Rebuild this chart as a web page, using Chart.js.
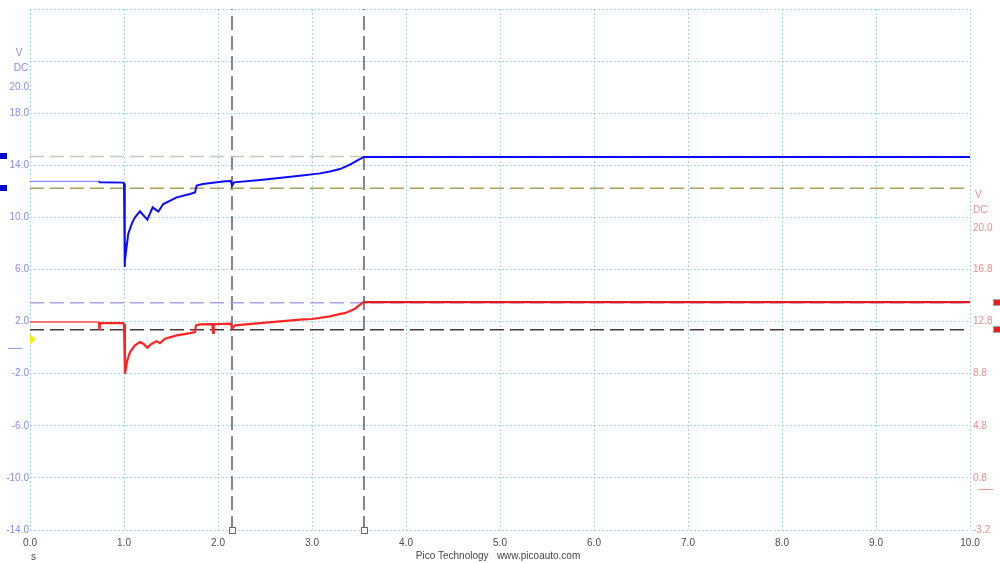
<!DOCTYPE html>
<html>
<head>
<meta charset="utf-8">
<script src="https://cdn.jsdelivr.net/npm/chart.js@4"></script>
<style>
  body { margin: 0; background: #fff; }
  canvas { display: block; }
</style>
</head>
<body>
<canvas id="scope" width="1000" height="563"></canvas>
<script>
// ---------- DATA ----------

// channel A (blue, left axis, V DC)
var blueTime = [0, 0.73, 0.745, 0.99, 1.0, 1.008, 1.015, 1.022, 1.045, 1.082, 1.117, 1.17, 1.248, 1.305, 1.365, 1.418, 1.561, 1.702, 1.755, 1.773, 1.84, 2.074, 2.138, 2.149, 2.17, 2.447, 2.872, 3.085, 3.191, 3.298, 3.404, 3.479, 3.553, 10];
var blueVolts = [12.77, 12.77, 12.7, 12.67, 12.6, 6.2, 8.0, 7.4, 8.73, 9.5, 10.0, 10.47, 9.83, 10.77, 10.44, 11.03, 11.54, 11.8, 11.92, 12.44, 12.57, 12.77, 12.8, 12.44, 12.69, 12.87, 13.2, 13.38, 13.53, 13.71, 14.05, 14.36, 14.64, 14.64];

// channel B (red, right axis, V DC)
var redTime = [0, 0.734, 0.738, 0.745, 0.99, 1.0, 1.01, 1.035, 1.064, 1.117, 1.17, 1.205, 1.248, 1.295, 1.348, 1.383, 1.436, 1.561, 1.702, 1.755, 1.766, 1.809, 1.94, 1.947, 1.955, 2.138, 2.149, 2.181, 2.447, 2.872, 3.0, 3.191, 3.3, 3.351, 3.457, 3.532, 3.553, 10];
var redVolts = [12.76, 12.76, 12.15, 12.69, 12.69, 12.6, 8.8, 9.83, 10.46, 10.98, 11.23, 11.1, 10.8, 11.1, 11.3, 11.15, 11.49, 11.74, 11.92, 12.0, 12.51, 12.58, 12.6, 11.94, 12.6, 12.65, 12.26, 12.51, 12.69, 12.95, 13.0, 13.2, 13.39, 13.45, 13.79, 14.22, 14.29, 14.3];

// rulers and time cursors
var blueRulers = [14.68, 12.23];
var redRulers = [14.25, 12.18];
var cursorTimes = [2.149, 3.553];

// axis ticks
var timeTicks = [0, 1, 2, 3, 4, 5, 6, 7, 8, 9, 10];
var leftTicks = [-14, -10, -6, -2, 2, 6, 10, 14, 18, 20, 22, 26];
var leftHidden = [22, 26];
var rightTicks = [-3.2, 0.8, 4.8, 8.8, 12.8, 16.8, 20.0];
var triggerLevel = 0.64;

var FONT = '"Liberation Sans", Arial, sans-serif';

function toPoints(xs, ys) {
  return xs.map(function (x, i) { return { x: x, y: ys[i] }; });
}

var datasets = [];

datasets.push({
  label: 'A',
  data: toPoints(blueTime, blueVolts),
  yAxisID: 'y',
  borderColor: '#0a0aff',
  borderWidth: 2,
  segment: {
    borderColor: function (ctx) { return ctx.p0.parsed.x < 0.72 ? '#6e6eff' : undefined; },
    borderWidth: function (ctx) { return ctx.p0.parsed.x < 0.72 ? 1 : undefined; }
  }
});

datasets.push({
  label: 'B',
  data: toPoints(redTime, redVolts),
  yAxisID: 'y2',
  borderColor: '#ff2424',
  borderWidth: 2.2,
  segment: {
    borderColor: function (ctx) { return ctx.p0.parsed.x < 0.72 ? '#ff4a4a' : (ctx.p0.parsed.x > 3.5 ? '#e01c1c' : undefined); },
    borderWidth: function (ctx) { return ctx.p0.parsed.x < 0.72 ? 1.5 : undefined; }
  }
});

var blueRulerColors = ['#c4cabb', '#a3a364'];
blueRulers.forEach(function (v, i) {
  datasets.push({ data: toPoints([0, 10], [v, v]), yAxisID: 'y', borderColor: blueRulerColors[i], borderWidth: 1.5, borderDash: [14, 6] });
});

var redRulerColors = ['#a8a2e2', '#4a3a3e'];
redRulers.forEach(function (v, i) {
  datasets.push({ data: toPoints([0, 10], [v, v]), yAxisID: 'y2', borderColor: redRulerColors[i], borderWidth: 1.5, borderDash: [14, 6] });
});

cursorTimes.forEach(function (t) {
  datasets.push({ data: toPoints([t, t], [-14, 26]), yAxisID: 'y', borderColor: '#52404c', borderWidth: 1.3, borderDash: [14, 6] });
});

// ---------- EXTRA DRAWING (units, markers, footer) ----------

var scopeExtras = {
  id: 'scopeExtras',
  afterDraw: function (chart) {
    var ctx = chart.ctx;
    var y = chart.scales.y, y2 = chart.scales.y2, x = chart.scales.x;
    ctx.save();
    ctx.font = '10px ' + FONT;
    ctx.textBaseline = 'middle';

    // unit labels
    ctx.fillStyle = '#8a8aee';
    ctx.textAlign = 'center';
    ctx.fillText('V', 19, y.getPixelForValue(20) - 34);
    ctx.fillText('DC', 21, y.getPixelForValue(20) - 19);
    ctx.fillStyle = '#f48a8a';
    ctx.textAlign = 'left';
    ctx.fillText('V', 975, y2.getPixelForValue(20) - 33);
    ctx.fillText('DC', 973, y2.getPixelForValue(20) - 18);

    // ruler markers
    blueRulers.forEach(function (v) {
      var py = Math.round(y.getPixelForValue(v));
      ctx.fillStyle = '#0000d8';
      ctx.fillRect(0, py - 3, 7, 6);
    });
    redRulers.forEach(function (v) {
      var py = Math.round(y2.getPixelForValue(v));
      ctx.fillStyle = '#a0a0a0';
      ctx.fillRect(993, py - 4, 7, 7);
      ctx.fillStyle = '#e42020';
      ctx.fillRect(994, py - 3, 6, 5);
    });

    // trigger marker
    var ty = y.getPixelForValue(triggerLevel);
    ctx.fillStyle = '#f2f200';
    ctx.beginPath();
    ctx.moveTo(30, ty - 5);
    ctx.lineTo(36, ty);
    ctx.lineTo(30, ty + 5);
    ctx.closePath();
    ctx.fill();

    // channel offset dashes
    ctx.strokeStyle = '#9a9aee';
    ctx.lineWidth = 1;
    ctx.beginPath();
    ctx.moveTo(8, 348.5);
    ctx.lineTo(22, 348.5);
    ctx.stroke();
    ctx.strokeStyle = '#f29a9a';
    ctx.beginPath();
    ctx.moveTo(978, 489.5);
    ctx.lineTo(993, 489.5);
    ctx.stroke();

    // cursor handles
    cursorTimes.forEach(function (t) {
      var px = Math.round(x.getPixelForValue(t));
      ctx.fillStyle = '#ffffff';
      ctx.strokeStyle = '#6a6a6a';
      ctx.fillRect(px - 3, 527, 6, 6);
      ctx.strokeRect(px - 2.5, 527.5, 6, 6);
    });

    // footer
    ctx.fillStyle = '#454545';
    ctx.textAlign = 'left';
    ctx.fillText('s', 31, 557);
    ctx.textAlign = 'center';
    ctx.fillText('Pico Technology   www.picoauto.com', 498, 556);
    ctx.restore();
  }
};

// ---------- CHART ----------

var gridDash = [2, 2];
var ctxScope = document.getElementById('scope').getContext('2d');
var scopeChart = new Chart(ctxScope, {
  type: 'line',
  data: { datasets: datasets },
  options: {
    responsive: false,
    animation: false,
    events: [],
    layout: { padding: { top: 9, left: 0, right: 0, bottom: 0 } },
    elements: {
      point: { radius: 0 },
      line: { tension: 0, fill: false }
    },
    plugins: {
      legend: { display: false },
      tooltip: { enabled: false }
    },
    scales: {
      x: {
        type: 'linear',
        min: 0,
        max: 10,
        afterBuildTicks: function (scale) { scale.ticks = timeTicks.map(function (v) { return { value: v }; }); },
        afterFit: function (scale) { scale.height = 33; },
        grid: { color: '#a9d6f0', drawTicks: false },
        border: { display: false, dash: gridDash },
        ticks: {
          padding: 7,
          color: '#4a4a5a',
          font: { family: FONT, size: 10 },
          maxRotation: 0,
          callback: function (v) { return v.toFixed(1); }
        }
      },
      y: {
        type: 'linear',
        position: 'left',
        min: -14,
        max: 26,
        afterBuildTicks: function (scale) { scale.ticks = leftTicks.map(function (v) { return { value: v }; }); },
        afterFit: function (scale) { scale.width = 30; },
        grid: {
          drawTicks: false,
          color: function (c) { return c.tick && c.tick.value === 20 ? 'rgba(0,0,0,0)' : '#a9d6f0'; }
        },
        border: { display: false, dash: gridDash },
        ticks: {
          padding: 1,
          color: '#8a8aee',
          font: { family: FONT, size: 10 },
          callback: function (v) { return leftHidden.indexOf(v) >= 0 ? '' : v.toFixed(1); }
        }
      },
      y2: {
        type: 'linear',
        position: 'right',
        min: -3.2,
        max: 36.8,
        afterBuildTicks: function (scale) { scale.ticks = rightTicks.map(function (v) { return { value: v }; }); },
        afterFit: function (scale) { scale.width = 30; },
        grid: { display: false, drawTicks: false },
        border: { display: false },
        ticks: {
          padding: 3,
          color: '#f48a8a',
          font: { family: FONT, size: 10 },
          callback: function (v) { return v.toFixed(1); }
        }
      }
    }
  },
  plugins: [scopeExtras]
});
</script>
</body>
</html>
